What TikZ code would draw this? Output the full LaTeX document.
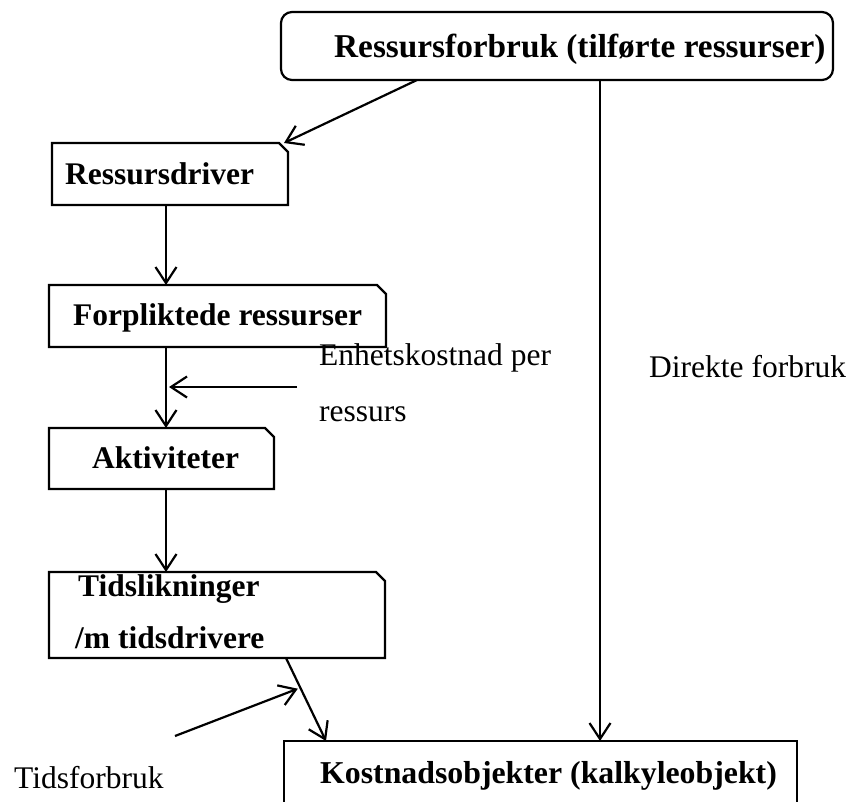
\documentclass[tikz,border=0pt]{standalone}
\usepackage{fontspec}
\setmainfont{Liberation Serif}
\usetikzlibrary{arrows.meta,calc}
\begin{document}
\begin{tikzpicture}[x=1pt,y=-1pt,
  font=\fontsize{31.5}{38}\selectfont,
  lw/.style={line width=2.2pt},
  box/.style={draw,lw,inner sep=0pt,outer sep=0pt},
  slot/.style={inner sep=0pt,outer sep=0pt},
  lbl/.style={anchor=base west,inner sep=0pt},
  blbl/.style={lbl,font=\fontsize{31.5}{38}\selectfont\bfseries},
  arr/.style={lw,-{Straight Barb[length=16pt,width=21pt,line width=2.2pt]}}]
\useasboundingbox (0,0) rectangle (851,801);
\clip (0,0) rectangle (851,801);
\newcommand\chambox[1]{\draw[lw,line join=miter] (#1.north west) -- ([xshift=-9pt]#1.north east)
   -- ([yshift=-9pt]#1.north east) -- (#1.south east) -- (#1.south west) -- cycle;}
% boxes
\node[box,rounded corners=11pt,minimum width=552pt,minimum height=68pt] (top) at (557,46) {};
\node[slot,minimum width=236pt,minimum height=62pt] (rd) at (170,174) {};
\node[slot,minimum width=337pt,minimum height=62pt] (fr) at (217.5,316) {};
\node[slot,minimum width=225pt,minimum height=61pt] (ak) at (161.5,458.5) {};
\node[slot,minimum width=336pt,minimum height=86pt] (ti) at (217,615) {};
\chambox{rd}
\chambox{fr}
\chambox{ak}
\chambox{ti}
\node[box,minimum width=513pt,minimum height=100pt] (ko) at (540.5,791) {};
% texts
\node[blbl,font=\fontsize{33.3}{38}\selectfont\bfseries] (t1) at (334,57) {Ressursforbruk (tilførte ressurser)};
\node[blbl] (t2) at (65,184) {Ressursdriver};
\node[blbl] (t3) at (73,325) {Forpliktede ressurser};
\node[blbl] (t4) at (92,468) {Aktiviteter};
\node[blbl] (t5) at (78,596) {Tidslikninger};
\node[blbl] (t6) at (75,648) {/m tidsdrivere};
\node[blbl,font=\fontsize{31.8}{38}\selectfont\bfseries] (t7) at (320,783) {Kostnadsobjekter (kalkyleobjekt)};
\node[lbl] (l1) at (319,365) {Enhetskostnad per};
\node[lbl] (l2) at (319,421) {ressurs};
\node[lbl] (l3) at (649,377) {Direkte forbruk};
\node[lbl] (l4) at (14,788) {Tidsforbruk};
% helper coordinates
\coordinate (axis) at (166,0);
\coordinate (dir) at (600,0);
\coordinate (enh) at (297,387);
\coordinate (tst) at (175,736);
% connectors
\draw[arr] ([xshift=-140pt]top.south) -- ([xshift=-4pt]rd.north east);
\draw[arr] (rd.south -| axis) -- (fr.north -| axis);
\draw[arr] (fr.south -| axis) -- (ak.north -| axis);
\draw[arr] (ak.south -| axis) -- (ti.north -| axis);
\draw[arr] (enh) -- ([xshift=3pt]axis |- enh);
\draw[arr] (top.south -| dir) -- (ko.north -| dir);
\coordinate (ta) at ([xshift=237pt]ti.south west);
\coordinate (tb) at ([xshift=42pt]ko.north west);
\draw[arr] (ta) -- (tb);
\coordinate (tm) at ($(ta)!0.37!(tb)$);
\draw[arr] (tst) -- ([xshift=-3pt]tm);
\end{tikzpicture}
\end{document}
